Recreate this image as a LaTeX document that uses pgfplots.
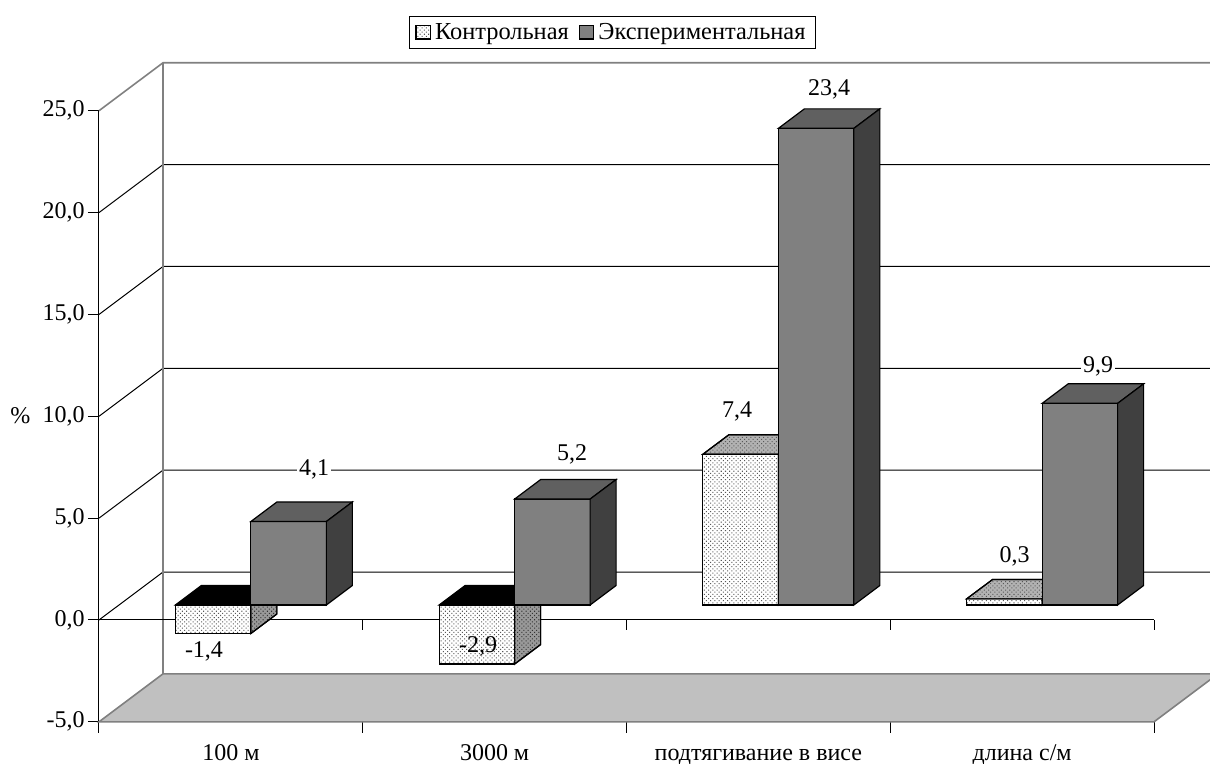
\documentclass[border=0pt]{standalone}
\usepackage{fontspec}
\setmainfont{Liberation Serif}
\usepackage{pgfplots}
\pgfplotsset{compat=1.18}
\usetikzlibrary{patterns.meta}

\definecolor{expfront}{RGB}{128,128,128}
\definecolor{exptop}{RGB}{96,96,96}
\definecolor{expside}{RGB}{64,64,64}
\definecolor{floorgray}{RGB}{192,192,192}
\definecolor{wallgray}{RGB}{128,128,128}

% box geometry: x runs along the category axis, y is in percent
\def\catw{263.75}  % width of one category
\def\barw{75.5}    % width of one bar
\def\fdx{20}       % bar front plane: shift right
\def\fdy{0.736}    % bar front plane: shift up
\def\bdx{26}       % bar depth: shift right
\def\bdy{0.957}    % bar depth: shift up
\def\wdx{64}       % wall depth: shift right
\def\wdy{2.356}    % wall depth: shift up

\tikzset{
  edge/.style={draw=black, line width=0.6pt, line join=miter},
  stipple/.style={postaction={pattern={Dots[distance=1.5pt, radius=0.36pt, angle=45]}, pattern color=#1}},
  ctrl front/.style={edge, fill=white, stipple=black!65},
  ctrl top/.style={edge, fill=black!30, stipple=black!65},
  ctrl side/.style={edge, fill=black!40, stipple=black!80},
  ctrl neg top/.style={edge, fill=black},
  exp front/.style={edge, fill=expfront},
  exp top/.style={edge, fill=exptop},
  exp side/.style={edge, fill=expside},
  lbl/.style={font=\fontsize{12}{14}\selectfont, inner sep=1pt},
}

% one bar: #1 category index, #2 series (0 = left, 1 = right), #3 value,
% #4 front style, #5 top style, #6 side style
\newcommand\drawbar[6]{%
  \pgfmathsetmacro\xa{99+\catw*(#1+0.5)+\fdx+\barw*(#2-1)}%
  \pgfmathsetmacro\xb{\xa+\barw}%
  \pgfmathsetmacro\xc{\xb+\bdx}%
  \pgfmathsetmacro\xd{\xa+\bdx}%
  \pgfmathsetmacro\ylo{\fdy+min(0,#3)}%
  \pgfmathsetmacro\yhi{\fdy+max(0,#3)}%
  \pgfmathsetmacro\ylob{\ylo+\bdy}%
  \pgfmathsetmacro\yhib{\yhi+\bdy}%
  \edef\barfaces{%
    \noexpand\addplot[#4, forget plot] coordinates {(\xa,\ylo) (\xb,\ylo) (\xb,\yhi) (\xa,\yhi)} -- cycle;
    \noexpand\addplot[#5, forget plot] coordinates {(\xa,\yhi) (\xb,\yhi) (\xc,\yhib) (\xd,\yhib)} -- cycle;
    \noexpand\addplot[#6, forget plot] coordinates {(\xb,\ylo) (\xc,\ylob) (\xc,\yhib) (\xb,\yhi)} -- cycle;
  }\barfaces
}

\begin{document}
\begin{tikzpicture}
\begin{axis}[
  scale only axis,
  width=527.5pt, height=305.55pt,
  xmin=99, xmax=1154, ymin=-5, ymax=25,
  clip=false,
  axis x line*=bottom, axis y line*=left,
  axis line style={-, black, line width=0.5pt},
  tick align=outside,
  major tick length=5.5pt,
  tick style={black, line width=0.5pt},
  xtick={99,362.75,626.5,890.25,1154},
  xticklabels={},
  ytick={-5,0,5,10,15,20,25},
  yticklabel style={font=\fontsize{12}{14}\selectfont, inner sep=1.5pt,
    /pgf/number format/fixed, /pgf/number format/fixed zerofill,
    /pgf/number format/precision=1, /pgf/number format/use comma,
    /pgf/number format/assume math mode=true},
  legend columns=2,
  legend style={at={(axis description cs:0.4867,1.128)}, anchor=center,
    draw=black, line width=0.5pt, font=\fontsize{12.2}{14}\selectfont,
    inner xsep=3pt, inner ysep=1pt,
    /tikz/every even column/.append style={column sep=3pt}},
  legend image code/.code={\draw[#1] (0pt,-3.2pt) rectangle (7.2pt,3.4pt);},
]
% floor
\draw[fill=floorgray, draw=wallgray, line width=0.8pt]
  (axis cs:99,-5) -- (axis cs:1154,-5) -- (axis cs:1154+\wdx,-5+\wdy)
  -- (axis cs:99+\wdx,-5+\wdy) -- cycle;
% back wall and side wall grid
\pgfplotsinvokeforeach{0,5,10,15,20}{
  \draw[black, line width=0.5pt] (axis cs:99,#1) -- (axis cs:99+\wdx,#1+\wdy) -- (axis cs:1154+\wdx,#1+\wdy);
}
\draw[wallgray, line width=0.8pt] (axis cs:99,25) -- (axis cs:99+\wdx,25+\wdy) -- (axis cs:1154+\wdx,25+\wdy);
\draw[wallgray, line width=0.8pt] (axis cs:99+\wdx,-5+\wdy) -- (axis cs:99+\wdx,25+\wdy);
% zero line of the category axis
\draw[black, line width=0.5pt] (axis cs:99,0) -- (axis cs:1154,0);
\pgfplotsinvokeforeach{362.75,626.5,890.25,1154}{
  \draw[black, line width=0.5pt] (axis cs:#1,0) -- (axis cs:#1,-0.49);
}

% bars
\drawbar{0}{0}{-1.4}{ctrl front}{ctrl neg top}{ctrl side}
\drawbar{0}{1}{4.1}{exp front}{exp top}{exp side}
\drawbar{1}{0}{-2.9}{ctrl front}{ctrl neg top}{ctrl side}
\drawbar{1}{1}{5.2}{exp front}{exp top}{exp side}
\drawbar{2}{0}{7.4}{ctrl front}{ctrl top}{ctrl side}
\drawbar{2}{1}{23.4}{exp front}{exp top}{exp side}
\drawbar{3}{0}{0.3}{ctrl front}{ctrl top}{ctrl side}
\drawbar{3}{1}{9.9}{exp front}{exp top}{exp side}

% value labels
\node[lbl, fill=white, anchor=base] at (axis cs:204,-1.82) {-1,4};
\node[lbl, fill=white, anchor=base] at (axis cs:314,7.07) {4,1};
\node[lbl, anchor=base] at (axis cs:478,-1.62) {-2,9};
\node[lbl, fill=white, anchor=base] at (axis cs:572,7.85) {5,2};
\node[lbl, fill=white, anchor=base] at (axis cs:737,9.92) {7,4};
\node[lbl, fill=white, anchor=base] at (axis cs:829,25.77) {23,4};
\node[lbl, fill=white, anchor=base] at (axis cs:1014.5,2.80) {0,3};
\node[lbl, fill=white, anchor=base] at (axis cs:1098,12.17) {9,9};

% category names
\node[lbl, anchor=base] at (axis cs:230.9,-6.92) {100 м};
\node[lbl, anchor=base] at (axis cs:494.6,-6.92) {3000 м};
\node[lbl, anchor=base] at (axis cs:758.4,-6.92) {подтягивание в висе};
\node[lbl, anchor=base] at (axis cs:1022.1,-6.92) {длина с/м};
% unit
\node[lbl, anchor=base] at (axis cs:20.3,9.67) {\%};

\addlegendimage{ctrl front}
\addlegendentry{Контрольная}
\addlegendimage{exp front}
\addlegendentry{Экспериментальная}

\coordinate (bbBL) at (axis cs:0,-7.069);
\coordinate (bbTR) at (axis cs:1210,30.437);
\end{axis}
\pgfresetboundingbox
\useasboundingbox (bbBL) rectangle (bbTR);
\end{tikzpicture}
\end{document}
